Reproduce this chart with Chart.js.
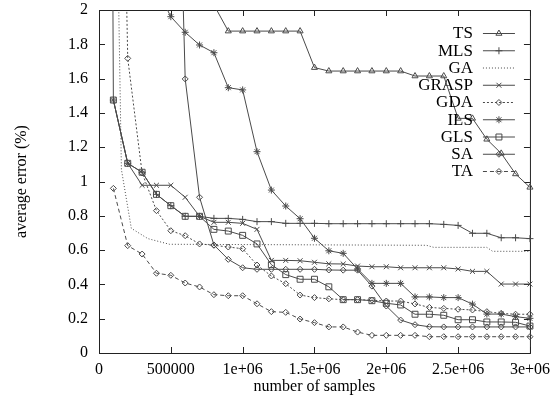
<!DOCTYPE html>
<html>
<head>
<meta charset="utf-8">
<script src="https://cdn.jsdelivr.net/npm/chart.js@4/dist/chart.umd.min.js"></script>
<style>
  html, body { margin: 0; padding: 0; background: #fff; }
  #wrap { width: 557px; height: 396px; }
</style>
</head>
<body>
<div id="wrap"><canvas id="errChart" width="557" height="396"></canvas></div>
<script>
// number of samples (x), shared by the marked series
const samples = [0, 100000, 200000, 300000, 400000, 500000, 600000, 700000, 800000, 900000,
  1000000, 1100000, 1200000, 1300000, 1400000, 1500000, 1600000, 1700000, 1800000, 1900000,
  2000000, 2100000, 2200000, 2300000, 2400000, 2500000, 2600000, 2700000, 2800000, 2900000, 3000000];

// average error (%) per algorithm, null = not plotted
const ts = [null, null, null, null, null, null, null, null, 2.03, 1.877, 1.877, 1.877, 1.877, 1.877, 1.877, 1.664,
  1.644, 1.644, 1.644, 1.644, 1.644, 1.644, 1.615, 1.615, 1.615, 1.368, 1.368, 1.246, 1.164, 1.044, 0.966];
const mls = [null, 1.475, 1.106, 1.054, 0.925, 0.859, 0.797, 0.797, 0.785, 0.785, 0.779, 0.766, 0.766, 0.756, 0.756, 0.756,
  0.754, 0.754, 0.754, 0.754, 0.754, 0.754, 0.754, 0.754, 0.75, 0.744, 0.698, 0.698, 0.672, 0.672, 0.667];
const grasp = [null, 1.475, 1.106, 0.978, 0.978, 0.978, 0.908, 0.797, 0.762, 0.762, 0.756, 0.721, 0.54, 0.54, 0.538, 0.529,
  0.52, 0.519, 0.507, 0.503, 0.503, 0.497, 0.497, 0.497, 0.497, 0.49, 0.476, 0.476, 0.402, 0.402, 0.402];
const gda = [null, 6, 1.718, 1.05, 0.83, 0.713, 0.684, 0.636, 0.628, 0.618, 0.608, 0.513, 0.449, 0.404, 0.338, 0.323,
  0.316, 0.311, 0.311, 0.308, 0.303, 0.303, 0.286, 0.266, 0.26, 0.255, 0.251, 0.241, 0.231, 0.226, 0.226];
const ils = [null, null, null, null, 2.13, 1.961, 1.87, 1.796, 1.751, 1.547, 1.534, 1.174, 0.95, 0.857, 0.783, 0.669,
  0.596, 0.581, 0.49, 0.406, 0.406, 0.406, 0.327, 0.327, 0.323, 0.323, 0.285, 0.227, 0.227, 0.212, 0.202];
const gls = [20, 1.475, 1.106, 1.054, 0.925, 0.859, 0.797, 0.797, 0.721, 0.711, 0.686, 0.636, 0.515, 0.457, 0.43, 0.43,
  0.386, 0.311, 0.311, 0.305, 0.29, 0.28, 0.226, 0.226, 0.22, 0.194, 0.194, 0.181, 0.181, 0.179, 0.157];
const sa = [null, null, null, null, null, 4.7, 1.598, 0.908, 0.63, 0.546, 0.497, 0.488, 0.488, 0.488, 0.488, 0.488,
  0.484, 0.483, 0.483, 0.39, 0.274, 0.192, 0.165, 0.153, 0.152, 0.152, 0.152, 0.152, 0.152, 0.152, 0.152];
const ta = [null, 0.96, 0.626, 0.577, 0.465, 0.453, 0.408, 0.385, 0.34, 0.334, 0.334, 0.287, 0.241, 0.237, 0.198, 0.177,
  0.152, 0.152, 0.122, 0.103, 0.103, 0.103, 0.103, 0.095, 0.095, 0.095, 0.095, 0.095, 0.095, 0.095, 0.095];

// GA has no markers and its own sampling
const gaSamples = [0, 156000, 225000, 340000, 490000, 2280000, 2330000, 2700000, 2740000, 3000000];
const gaError = [9, 1.07, 0.727, 0.667, 0.634, 0.628, 0.616, 0.616, 0.593, 0.593];

const xTicks = [0, 500000, 1000000, 1500000, 2000000, 2500000, 3000000];
const xTickLabels = ['0', '500000', '1e+06', '1.5e+06', '2e+06', '2.5e+06', '3e+06'];
const yTickLabels = ['0', '0.2', '0.4', '0.6', '0.8', '1', '1.2', '1.4', '1.6', '1.8', '2'];

const FONT = "'Liberation Serif', 'Times New Roman', serif";
const INK = '#4a4a4a';

function pts(xs, ys) {
  return xs.map((x, i) => ({ x: x, y: ys[i] })).filter(p => p.y !== null);
}

function series(label, xs, ys, style, radius, dash) {
  return {
    label: label,
    data: pts(xs, ys),
    borderColor: INK,
    borderWidth: 1,
    borderDash: dash || [],
    pointStyle: style,
    pointRadius: radius,
    pointBorderColor: INK,
    pointBorderWidth: 1,
    pointBackgroundColor: 'rgba(0,0,0,0)',
    tension: 0,
    clip: { left: 0, top: 0, right: 8, bottom: 8 }
  };
}

// gnuplot like frame with inward ticks on all four sides
const framePlugin = {
  id: 'frame',
  beforeDatasetsDraw(chart) {
    const { ctx, chartArea: a, scales } = chart;
    ctx.save();
    ctx.strokeStyle = '#222';
    ctx.lineWidth = 1;
    ctx.strokeRect(a.left + 0.5, a.top + 0.5, a.right - a.left, a.bottom - a.top);
    ctx.beginPath();
    scales.x.ticks.forEach(t => {
      const px = Math.round(scales.x.getPixelForValue(t.value)) + 0.5;
      ctx.moveTo(px, a.bottom); ctx.lineTo(px, a.bottom - 6);
      ctx.moveTo(px, a.top); ctx.lineTo(px, a.top + 6);
    });
    scales.y.ticks.forEach(t => {
      const py = Math.round(scales.y.getPixelForValue(t.value)) + 0.5;
      ctx.moveTo(a.left, py); ctx.lineTo(a.left + 6, py);
      ctx.moveTo(a.right, py); ctx.lineTo(a.right - 6, py);
    });
    ctx.stroke();
    ctx.restore();
  }
};

// key inside the plot, text right aligned, sample line to its right
const keyPlugin = {
  id: 'key',
  afterDatasetsDraw(chart) {
    const { ctx, chartArea: a } = chart;
    ctx.save();
    ctx.font = '17px ' + FONT;
    ctx.textAlign = 'right';
    ctx.textBaseline = 'middle';
    chart.data.datasets.forEach((ds, i) => {
      const y = a.top + 23 + i * 17.25;
      ctx.fillStyle = '#000';
      ctx.fillText(ds.label, a.right - 57, y + 1);
      ctx.strokeStyle = INK;
      ctx.lineWidth = 1;
      ctx.setLineDash(ds.borderDash);
      ctx.beginPath();
      ctx.moveTo(a.right - 47, y + 0.5);
      ctx.lineTo(a.right - 15, y + 0.5);
      ctx.stroke();
      ctx.setLineDash([]);
      if (ds.pointRadius > 0) {
        ctx.fillStyle = 'rgba(0,0,0,0)';
        Chart.helpers.drawPoint(ctx, {
          pointStyle: ds.pointStyle, radius: ds.pointRadius, rotation: 0, borderWidth: 1
        }, a.right - 31, y + 0.5);
      }
    });
    ctx.restore();
  }
};

document.addEventListener('DOMContentLoaded', function () {
  const ctx = document.getElementById('errChart');

  new Chart(ctx, {
    type: 'line',
    data: {
      datasets: [
        series('TS', samples, ts, 'triangle', 3.5),
        series('MLS', samples, mls, 'cross', 3.5),
        series('GA', gaSamples, gaError, false, 0, [1, 2]),
        series('GRASP', samples, grasp, 'crossRot', 3.5),
        series('GDA', samples, gda, 'rectRot', 3, [2, 2]),
        series('ILS', samples, ils, 'star', 3.5),
        series('GLS', samples, gls, 'rect', 4.2),
        series('SA', samples, sa, 'rectRot', 3),
        series('TA', samples, ta, 'rectRot', 3, [4, 3])
      ]
    },
    options: {
      responsive: false,
      animation: false,
      layout: { padding: { top: 10, right: 23, left: 0, bottom: 0 } },
      plugins: { legend: { display: false }, tooltip: { enabled: false } },
      scales: {
        x: {
          type: 'linear',
          min: 0,
          max: 3000000,
          afterFit: s => { s.height = 43; },
          afterBuildTicks: s => { s.ticks = xTicks.map(v => ({ value: v })); },
          grid: { display: false, drawTicks: false },
          border: { display: false },
          ticks: {
            autoSkip: false,
            maxRotation: 0,
            padding: 7,
            color: '#000',
            font: { family: FONT, size: 16 },
            callback: (v, i) => xTickLabels[i]
          },
          title: {
            display: true,
            text: 'number of samples',
            color: '#000',
            font: { family: FONT, size: 16 },
            padding: 0
          }
        },
        y: {
          min: 0,
          max: 2,
          afterFit: s => { s.width = 99; s.paddingTop = 0; s.paddingBottom = 0; },
          grid: { display: false, drawTicks: false },
          border: { display: false },
          ticks: {
            stepSize: 0.2,
            padding: 11,
            color: '#000',
            font: { family: FONT, size: 16 },
            callback: (v, i) => yTickLabels[i]
          },
          title: {
            display: true,
            text: 'average error (%)',
            color: '#000',
            font: { family: FONT, size: 16 },
            padding: { top: 12, bottom: 0 }
          }
        }
      }
    },
    plugins: [framePlugin, keyPlugin]
  });
});
</script>
</body>
</html>
